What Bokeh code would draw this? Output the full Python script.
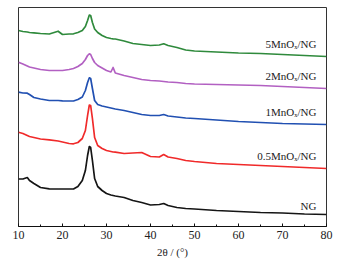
from bokeh.plotting import figure
from bokeh.models import Range1d, Label, FixedTicker
from bokeh.embed import file_html
from bokeh.resources import INLINE

two_theta = [10, 11, 12, 12.5, 13.5, 15, 17, 19, 20, 21.5, 22.5, 23.5, 24.5, 25.2, 25.7, 26.1,
             26.4, 26.8, 27.3, 28, 29, 30, 31, 31.5, 32, 34, 36, 38, 40, 42, 43, 44, 46, 48,
             50, 55, 60, 65, 70, 75, 80]

ng = [47.5, 47.5, 49, 46, 43, 39, 37.7, 37.5, 37.5, 37.5, 37.5, 40, 46, 56, 71, 80,
      79, 66, 48, 40, 36, 33, 31.5, 31, 30.5, 29, 26, 24, 21.5, 22, 23, 21, 19, 18,
      17.5, 16, 15, 14, 13.5, 12.5, 12]
mn05 = [94.3, 93, 91, 90, 89, 87.5, 86.7, 85.5, 84.5, 83, 82.7, 84, 88, 96, 111, 121.5,
        121, 108, 89, 81, 78, 76, 75, 74.5, 74.3, 73, 73.5, 74, 70, 69.5, 72, 69.5, 68, 66,
        65, 63, 62, 61, 60, 59, 58]
mn1 = [134.3, 133.5, 133.3, 132, 129, 127.5, 126, 126, 125.7, 125.5, 125.5, 127, 129.5, 136, 144, 148.7,
       148, 138, 126, 122, 120.5, 119.5, 118.5, 118, 117.5, 116, 114, 112, 111, 111, 112, 110.5, 109.5, 108.5,
       108, 106.5, 105, 104, 103, 102.5, 102]
mn2 = [164.3, 162.5, 160.5, 159.5, 158.5, 157, 156, 156, 156, 157, 158, 160, 163, 167, 171, 172.7,
       172, 168, 164, 161, 158.5, 156, 154.5, 159, 153.5, 151, 149, 147, 146, 145.5, 145, 144.5, 144, 143,
       142.5, 142, 141.5, 141, 140, 139, 138]
mn5 = [196, 195, 194.5, 194, 193.7, 193, 192.5, 195.3, 192, 192.5, 192.7, 194, 196, 200, 206, 211.5,
       211, 204, 197.5, 194, 191, 189, 188, 187.7, 187.5, 185.5, 183, 182, 181, 181.5, 182.7, 181, 179, 176.5,
       175.5, 174.5, 173.5, 173, 172, 171, 170]

names = ["NG", "0.5MnO\u2093/NG", "1MnO\u2093/NG", "2MnO\u2093/NG", "5MnO\u2093/NG"]
series = [ng, mn05, mn1, mn2, mn5]
colors = ["#151515", "#f02a2a", "#2150b2", "#b260c2", "#2f8a3c"]
label_y = [21, 71, 115, 151, 183]
label_x = 77.7

p = figure(width=346, height=267, output_backend="svg", toolbar_location=None,
           x_range=Range1d(10, 80), y_range=Range1d(0, 219),
           min_border_left=18, min_border_right=20, min_border_top=7, min_border_bottom=41)
p.yaxis.visible = False
p.xgrid.visible = False
p.ygrid.visible = False
p.outline_line_color = "#333333"
p.outline_line_width = 1
p.background_fill_color = "white"
p.border_fill_color = "white"

for ys, c in zip(series, colors):
    p.line(two_theta, ys, line_color=c, line_width=1.7, line_join="round")

for name, ly in zip(names, label_y):
    p.add_layout(Label(x=label_x, y=ly, text=name, text_align="right", text_baseline="middle",
                       text_font="Liberation Serif", text_font_size="11px", text_color="#222222"))

ax = p.xaxis[0]
ax.ticker = FixedTicker(ticks=[10, 20, 30, 40, 50, 60, 70, 80],
                        minor_ticks=[15, 25, 35, 45, 55, 65, 75])
ax.major_tick_in = 3
ax.major_tick_out = 0
ax.minor_tick_in = 2
ax.minor_tick_out = 0
ax.axis_line_color = "#111111"
ax.major_tick_line_color = "#111111"
ax.minor_tick_line_color = "#111111"
ax.major_label_text_font = "Liberation Serif"
ax.major_label_text_font_size = "12px"
ax.major_label_text_color = "#222222"
ax.major_label_standoff = 4
ax.axis_label = "2\u03b8 / (\u00b0)"
ax.axis_label_text_font = "Liberation Serif"
ax.axis_label_text_font_style = "normal"
ax.axis_label_text_font_size = "11px"
ax.axis_label_text_color = "#222222"
ax.axis_label_standoff = 4

open("out.html", "w").write(file_html(p, INLINE))
